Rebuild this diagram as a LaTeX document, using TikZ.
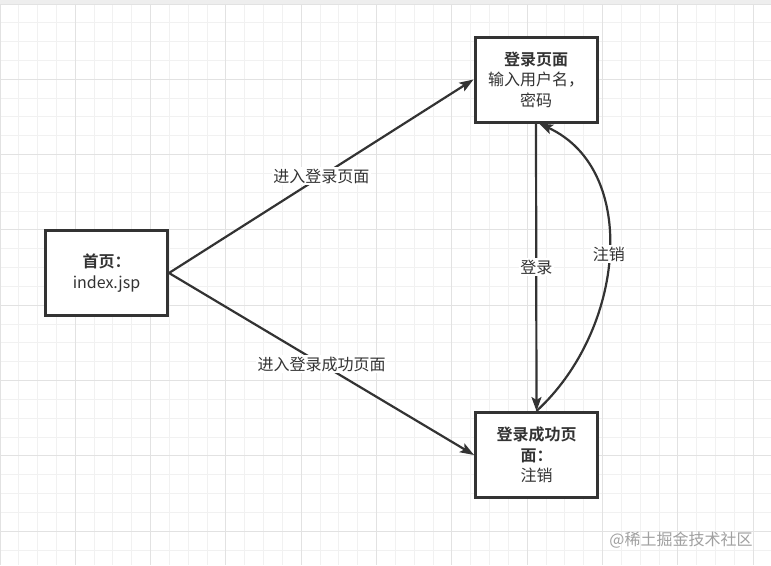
\documentclass[tikz,border=0pt]{standalone}
\usepackage{fontspec}
\setmainfont{Noto Sans CJK SC}[BoldFont={Noto Sans CJK SC Bold}]
\usetikzlibrary{arrows.meta}
\definecolor{ink}{RGB}{51,51,51}
\definecolor{gridminor}{RGB}{241,241,241}
\definecolor{gridmajor}{RGB}{226,226,226}
\definecolor{topband}{RGB}{238,238,238}
\definecolor{wmark}{RGB}{160,160,160}
\begin{document}
\begin{tikzpicture}[x=1pt,y=-1pt,
  box/.style={draw=ink, line width=3pt, fill=white, minimum width=122pt, minimum height=85pt,
    inner sep=0pt, align=center, text=ink, font=\fontsize{16}{20.5}\selectfont},
  conn/.style={draw=ink, line width=2.2pt, -{Stealth[length=14pt,width=10pt,inset=3pt]}},
  lbl/.style={fill=white, text=ink, inner sep=1.5pt, font=\fontsize{16}{18}\selectfont}]
\useasboundingbox (0,0) rectangle (771,565);
\fill[white] (0,0) rectangle (771,565);
\fill[topband] (0,0) rectangle (771,4);
% grid
\foreach \i in {0,...,41} \draw[gridminor, line width=1pt] (\i*18.83,4) -- (\i*18.83,565);
\foreach \j in {0,...,29} \draw[gridminor, line width=1pt] (0,4+\j*18.83) -- (771,4+\j*18.83);
\foreach \i in {0,...,10} \draw[gridmajor, line width=1pt] (\i*75.32,4) -- (\i*75.32,565);
\foreach \j in {0,...,7} \draw[gridmajor, line width=1pt] (0,4+\j*75.32) -- (771,4+\j*75.32);
% nodes
\node[box] (login) at (536,79.5) {\textbf{登录页面}\\输入用户名，\\密码};
\node[box] (home) at (106.5,273) {\textbf{首页：}\\index.jsp};
\node[box] (succ) at (536.5,455) {\textbf{登录成功页}\\\textbf{面：}\\注销};
% connectors
\draw[conn] (home.east) -- node[lbl]{进入登录页面} (login.west);
\draw[conn] (home.east) -- node[lbl]{进入登录成功页面} (succ.west);
\draw[conn] (login.south) -- node[lbl]{登录} (succ.north);
\draw[conn] (succ.north) .. controls (625,330) and (640,170) .. node[lbl]{注销} ([xshift=3pt]login.south);
% watermark
\node[text=wmark, font=\fontsize{16}{18}\selectfont, inner sep=0pt] (wm) at (681,540) {@稀土掘金技术社区};
\end{tikzpicture}
\end{document}
